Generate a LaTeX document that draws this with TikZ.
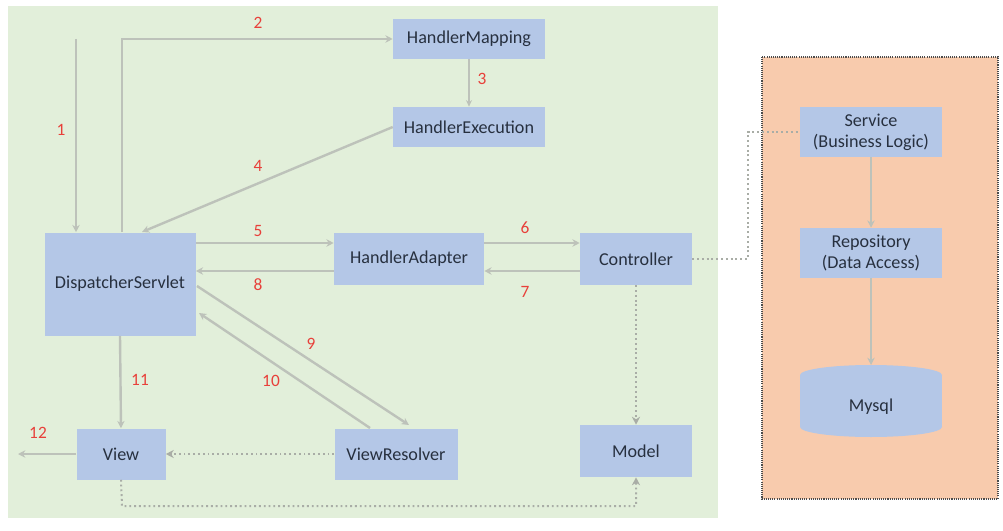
\documentclass[tikz,border=0pt]{standalone}
\usepackage{fontspec}
\setmainfont{Carlito}
\usetikzlibrary{arrows.meta}
\definecolor{bggreen}{HTML}{E2EFDA}
\definecolor{bgorange}{HTML}{F8CBAD}
\definecolor{boxblue}{HTML}{B4C7E7}
\definecolor{arrowgray}{HTML}{BDC2BA}
\definecolor{dotgray}{HTML}{A9ADA6}
\definecolor{numred}{HTML}{E8403A}
\definecolor{txt}{HTML}{27303F}
\begin{document}
\begin{tikzpicture}[x=0.75pt,y=-0.75pt,
  box/.style={fill=boxblue, inner sep=0pt, text=txt, font=\fontsize{13.6}{15.5}\selectfont, align=center},
  num/.style={text=numred, font=\fontsize{13}{15}\selectfont},
  flow/.style={draw=arrowgray, line width=1.8pt, -{Stealth[length=5.5pt,width=5.5pt]}},
  thinflow/.style={draw=arrowgray, line width=0.9pt, -{Stealth[length=5pt,width=4.5pt]}},
  dotflow/.style={draw=dotgray, line width=1.5pt, dash pattern=on 1.4pt off 2.2pt, -{Stealth[length=6pt,width=6pt]}},
  dotline/.style={draw=dotgray, line width=1.5pt, dash pattern=on 1.4pt off 2.2pt}
]
\useasboundingbox (0,0) rectangle (1003,531);
% panels
\fill[bggreen] (8,6) rectangle (718,518);
\draw[fill=bgorange, draw=gray!60!black, line width=1pt, dash pattern=on 0.8pt off 0.8pt] (762,57) rectangle (998,499);

% nodes
\node[box, minimum width=0.75pt*152, minimum height=0.75pt*40] (hm) at (469,39) {HandlerMapping};
\node[box, minimum width=0.75pt*152, minimum height=0.75pt*40] (he) at (469,127) {HandlerExecution};
\node[box, minimum width=0.75pt*151, minimum height=0.75pt*103] (ds) at (120,284) {DispatcherServlet};
\node[box, minimum width=0.75pt*150, minimum height=0.75pt*52] (ha) at (409,259) {HandlerAdapter};
\node[box, minimum width=0.75pt*112, minimum height=0.75pt*52] (ctrl) at (636,259) {Controller};
\node[box, minimum width=0.75pt*89, minimum height=0.75pt*51] (view) at (121,454) {View};
\node[box, minimum width=0.75pt*123, minimum height=0.75pt*51] (vr) at (396,454) {ViewResolver};
\node[box, minimum width=0.75pt*112, minimum height=0.75pt*52] (model) at (636,451) {Model};
\node[box, minimum width=0.75pt*142, minimum height=0.75pt*50] (svc) at (871,132) {Service\\(Business Logic)};
\node[box, minimum width=0.75pt*142, minimum height=0.75pt*50] (repo) at (871,253) {Repository\\(Data Access)};
% cylinder
\fill[boxblue] (800,375) rectangle (942,427);
\fill[boxblue] (871,375) ellipse [x radius=71, y radius=10];
\fill[boxblue] (871,427) ellipse [x radius=71, y radius=10];
\node[box, fill=none, minimum width=0.75pt*142, minimum height=0.75pt*72] (db) at (871,407) {Mysql};
\coordinate (dbtop) at (871,365);

% coordinates
\coordinate (start1) at (76,39);
\coordinate (bend2) at (122,39);
\coordinate (out12) at (18,454);
\coordinate (c1) at (748,259);
\coordinate (c2) at (748,132);
\coordinate (b1) at (122,506);
\coordinate (b2) at (636,506);

% connectors
\draw[flow] (start1) -- (start1 |- ds.north);
\draw[flow] (bend2 |- ds.north) -- (bend2) -- (hm.west |- bend2);
\draw[thinflow] (hm.south) -- (he.north);
\draw[flow] (he.west) -- (142,232);
\draw[flow] (ds.east |- 0,243) -- (ha.west |- 0,243);
\draw[flow] (ha.east |- 0,243) -- (ctrl.west |- 0,243);
\draw[flow] (ctrl.west |- 0,271) -- (ha.east |- 0,271);
\draw[flow] (ha.west |- 0,271) -- (ds.east |- 0,271);
\draw[flow] (197,286) -- (409,425);
\draw[flow] (370,428) -- (199,313);
\draw[flow] (ds.south) -- (view.north);
\draw[flow] (view.west) -- (out12);
\draw[dotflow] (vr.west) -- (view.east);
\draw[dotflow] (ctrl.south) -- (model.north);
\draw[dotflow] (view.south) -- (b1) -- (b2) -- (model.south);
\draw[dotline] (ctrl.east) -- (c1) -- (c2) -- (svc.west);
\draw[flow] (svc.south) -- (repo.north);
\draw[flow] (repo.south) -- (dbtop);

% labels
\node[num] (n1) at (61,130) {1};
\node[num] (n2) at (258,23) {2};
\node[num] (n3) at (482,79) {3};
\node[num] (n4) at (258,166) {4};
\node[num] (n5) at (258,231) {5};
\node[num] (n6) at (525,228) {6};
\node[num] (n7) at (525,292) {7};
\node[num] (n8) at (258,285) {8};
\node[num] (n9) at (311,344) {9};
\node[num] (n10) at (271,381) {10};
\node[num] (n11) at (140,380) {11};
\node[num] (n12) at (38,433) {12};
\end{tikzpicture}
\end{document}
